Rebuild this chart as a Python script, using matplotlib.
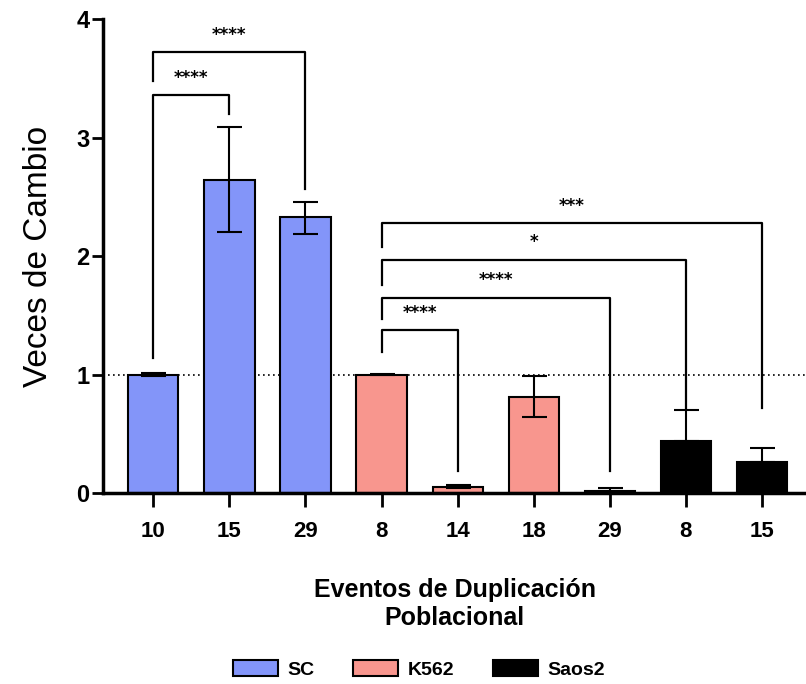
import matplotlib.pyplot as plt
from matplotlib.patches import Patch

# datos
labels = ['10', '15', '29', '8', '14', '18', '29', '8', '15']
grupos = ['SC', 'SC', 'SC', 'K562', 'K562', 'K562', 'K562', 'Saos2', 'Saos2']
valores = [1.0, 2.64, 2.33, 1.0, 0.05, 0.81, 0.02, 0.44, 0.26]
err_inf = [0.01, 0.44, 0.14, 0.005, 0.01, 0.17, 0.005, 0.0, 0.0]
err_sup = [0.01, 0.45, 0.13, 0.005, 0.02, 0.18, 0.02, 0.26, 0.12]

colores = {'SC': '#8395f9', 'K562': '#f8968e', 'Saos2': '#000000'}

# comparaciones: (i, j, altura, fin pata izq, fin pata der, texto)
comparaciones = [
    (0, 1, 3.36, 1.14, 3.20, '****'),
    (0, 2, 3.72, 3.48, 2.57, '****'),
    (3, 4, 1.375, 1.19, 0.19, '****'),
    (3, 6, 1.65, 1.47, 0.19, '****'),
    (3, 7, 1.97, 1.76, 0.72, '*'),
    (3, 8, 2.28, 2.08, 0.72, '***'),
]

plt.rcParams['font.family'] = ['Liberation Sans', 'DejaVu Sans']

fig = plt.figure(figsize=(8.06, 6.84), dpi=100)
ax = fig.add_axes([0.128, 0.279, 0.872, 0.693])

x = list(range(len(valores)))
ax.bar(x, valores, width=0.66, color=[colores[g] for g in grupos],
       edgecolor='black', linewidth=1.5, zorder=2)
ax.errorbar(x, valores, yerr=[err_inf, err_sup], fmt='none', ecolor='black',
            elinewidth=1.5, capsize=9, capthick=1.5, zorder=3)

ax.axhline(1, color='black', linestyle=(0, (1, 2)), linewidth=1.2, zorder=1)

for i, j, h, li, lj, txt in comparaciones:
    ax.plot([i, i, j, j], [li, h, h, lj], color='black', linewidth=1.6, zorder=4)
    ax.text((i + j) / 2, h + 0.07, txt, ha='center', va='bottom',
            fontsize=12, fontweight='bold', family='DejaVu Sans')

ax.set_xlim(-0.66, 8.58)
ax.set_ylim(0, 4)
ax.set_yticks([0, 1, 2, 3, 4])
ax.set_xticks(x)
ax.set_xticklabels(labels)
for s in ['top', 'right']:
    ax.spines[s].set_visible(False)
ax.spines['left'].set_linewidth(2.5)
ax.spines['bottom'].set_linewidth(2.5)
ax.tick_params(axis='y', length=8, width=2, labelsize=17, pad=2)
ax.tick_params(axis='x', length=10, width=2, labelsize=16, pad=10)
for t in ax.get_xticklabels() + ax.get_yticklabels():
    t.set_fontweight('bold')

ax.set_ylabel('Veces de Cambio', fontsize=24, labelpad=16)
ax.set_xlabel('Eventos de Duplicación\nPoblacional', fontsize=18,
              fontweight='bold', labelpad=26)

handles = [Patch(facecolor=colores[g], edgecolor='black', linewidth=1.5)
           for g in ['SC', 'K562', 'Saos2']]
leg = fig.legend(handles, ['SC', 'K562', 'Saos2'], loc='lower center',
                 bbox_to_anchor=(0.52, -0.012), ncol=3, frameon=False,
                 prop={'weight': 'bold', 'size': 14},
                 handlelength=2.3, handleheight=0.9, columnspacing=2.0,
                 handletextpad=0.5, borderpad=0.2)

plt.savefig('out.png', dpi=100)
